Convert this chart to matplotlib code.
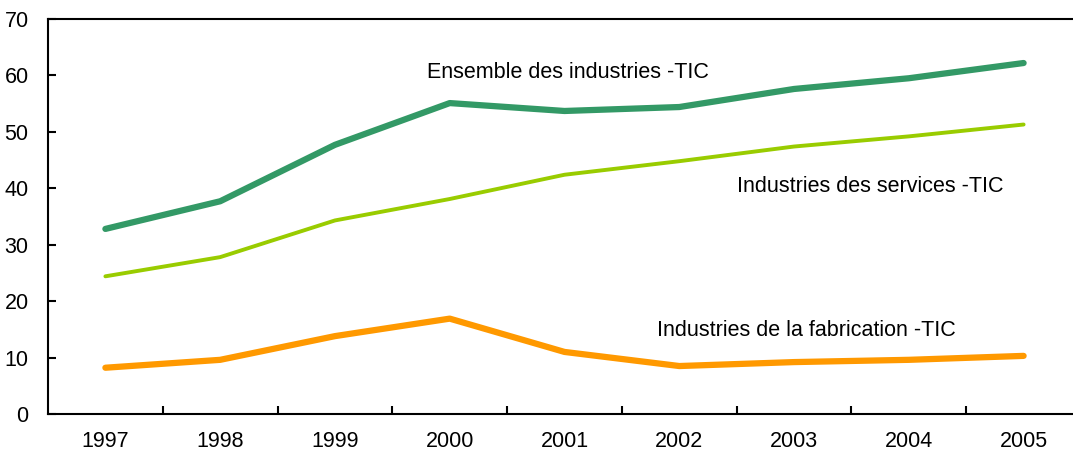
import matplotlib
matplotlib.use("Agg")
import matplotlib.pyplot as plt

years = [1997, 1998, 1999, 2000, 2001, 2002, 2003, 2004, 2005]
ensemble = [32.8, 37.7, 47.7, 55.1, 53.7, 54.4, 57.6, 59.5, 62.2]
services = [24.4, 27.8, 34.3, 38.1, 42.4, 44.8, 47.4, 49.2, 51.3]
fabrication = [8.2, 9.6, 13.8, 16.9, 11.0, 8.5, 9.2, 9.6, 10.3]
yticks = [0, 10, 20, 30, 40, 50, 60, 70]

plt.rcParams['font.family'] = ['Liberation Sans', 'DejaVu Sans']

W, H = 1073, 454
fig = plt.figure(figsize=(W / 100, H / 100), dpi=100)
left, right, top, bottom = 48, 1081, 19, 414
ax = fig.add_axes([left / W, 1 - bottom / H, (right - left) / W, (bottom - top) / H])

ax.plot(years, ensemble, color='#339966', lw=4.5, solid_capstyle='round', solid_joinstyle='round')
ax.plot(years, services, color='#99cc00', lw=2.8, solid_capstyle='round', solid_joinstyle='round')
ax.plot(years, fabrication, color='#ff9900', lw=4.5, solid_capstyle='round', solid_joinstyle='round')

ax.set_xlim(years[0] - 0.5, years[-1] + 0.5)
ax.set_ylim(0, 70)
ax.set_yticks(yticks)
ax.set_yticklabels([str(v) for v in yticks])
ax.set_xticks([y + 0.5 for y in years[:-1]])
ax.set_xticklabels([])
ax.set_xticks(years, minor=True)
ax.set_xticklabels([str(y) for y in years], minor=True)
ax.tick_params(axis='x', which='major', direction='in', length=6, width=1.5)
ax.tick_params(axis='x', which='minor', length=0, pad=12, labelsize=15.5)
ax.tick_params(axis='y', direction='in', length=6, width=1.5, pad=14, labelsize=15.5)
for s in ax.spines.values():
    s.set_linewidth(1.5)

ax.text(1999.8, 60.45, 'Ensemble des industries -TIC', fontsize=15.5, va='center', ha='left')
ax.text(2002.5, 40.25, 'Industries des services -TIC', fontsize=15.5, va='center', ha='left')
ax.text(2001.81, 14.75, 'Industries de la fabrication -TIC', fontsize=15.5, va='center', ha='left')

fig.savefig('out.png', dpi=100)
